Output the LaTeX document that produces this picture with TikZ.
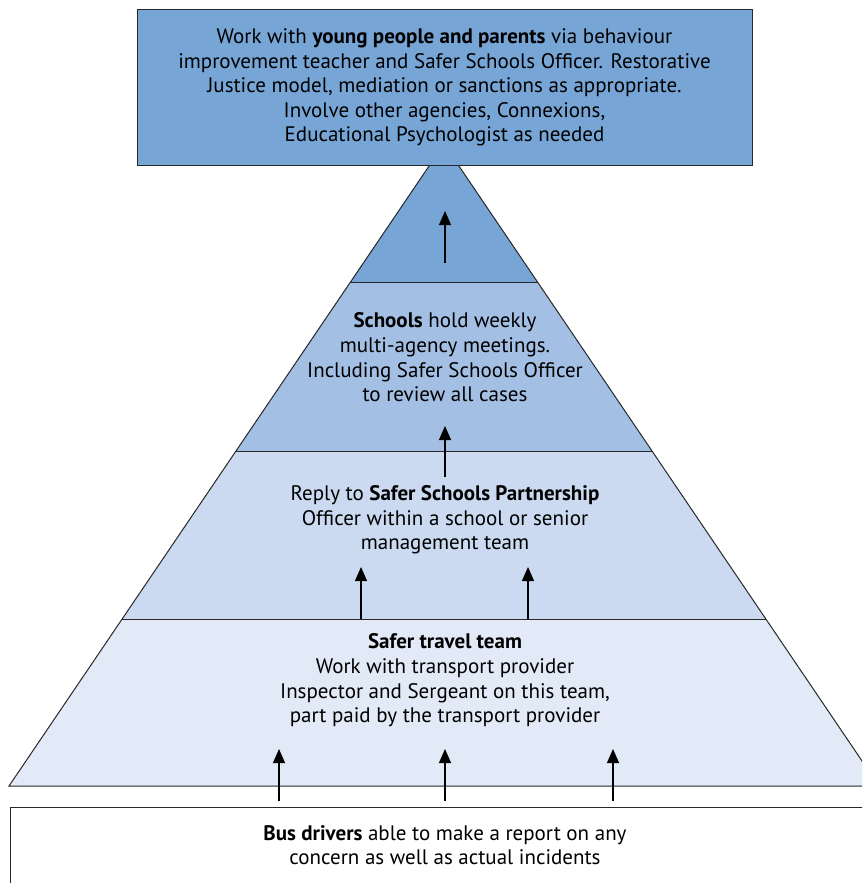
\documentclass[tikz,border=0pt]{standalone}
\usepackage{fontspec}
\setmainfont{PT Sans}
\usetikzlibrary{arrows.meta,calc}
\definecolor{lvA}{RGB}{118,165,214}
\definecolor{lvB}{RGB}{163,191,227}
\definecolor{lvC}{RGB}{203,218,240}
\definecolor{lvD}{RGB}{226,234,247}
\definecolor{edge}{RGB}{40,40,40}
\begin{document}
\begin{tikzpicture}[x=1pt,y=-1pt,
  txt/.style={align=center,font=\fontsize{21}{24.6}\selectfont,inner sep=0pt},
  upar/.style={-{Triangle[width=12pt,length=14pt]},line width=1.1pt,black},
  outl/.style={draw=edge,line width=1pt}]
\useasboundingbox (0,0) rectangle (862,883);
\begin{scope}
\clip (0,0) rectangle (862,883);
\coordinate (A) at (444,144);
\coordinate (BL) at (9,786);
\coordinate (BR) at (879,786);
\coordinate (L1) at ($(A)!0.21495!(BL)$);
\coordinate (R1) at ($(A)!0.21495!(BR)$);
\coordinate (L2) at ($(A)!0.47897!(BL)$);
\coordinate (R2) at ($(A)!0.47897!(BR)$);
\coordinate (L3) at ($(A)!0.73988!(BL)$);
\coordinate (R3) at ($(A)!0.73988!(BR)$);
\fill[lvD] (A) -- (BL) -- (BR) -- cycle;
\fill[lvC] (A) -- (L3) -- (R3) -- cycle;
\fill[lvB] (A) -- (L2) -- (R2) -- cycle;
\fill[lvA] (A) -- (L1) -- (R1) -- cycle;
\draw[outl] (A) -- (BL) -- (BR) -- cycle;
\draw[outl] (L1) -- (R1);
\draw[outl] (L2) -- (R2);
\draw[outl] (L3) -- (R3);
\draw[outl,fill=white] (10,807) rectangle (900,920);
\end{scope}
\node[txt,fill=lvA,draw=edge,line width=1pt,minimum width=615pt,minimum height=155pt] (top) at (444.5,87.5)
{Work with \textbf{young people and parents} via behaviour\\
improvement teacher and Safer Schools Officer. Restorative\\
Justice model, mediation or sanctions as appropriate.\\
Involve other agencies, Connexions,\\
Educational Psychologist as needed};
\node[txt] (schools) at (445,357.5)
{\textbf{Schools} hold weekly\\
multi-agency meetings.\\
Including Safer Schools Officer\\
to review all cases};
\node[txt] (reply) at (445,520)
{Reply to \textbf{Safer Schools Partnership}\\
Officer within a school or senior\\
management team};
\node[txt] (travel) at (445,680.5)
{\textbf{Safer travel team}\\
Work with transport provider\\
Inspector and Sergeant on this team,\\
part paid by the transport provider};
\node[txt] (bus) at (445,845)
{\textbf{Bus drivers} able to make a report on any\\
concern as well as actual incidents};
\coordinate (a0s) at (445,263); \coordinate (a0e) at (445,211);
\coordinate (a1s) at (445,477); \coordinate (a1e) at (445,426);
\coordinate (a2s) at (361,619); \coordinate (a2e) at (361,567);
\coordinate (a3s) at (528,619); \coordinate (a3e) at (528,567);
\coordinate (a4s) at (279,801); \coordinate (a4e) at (279,749);
\coordinate (a5s) at (445,801); \coordinate (a5e) at (445,749);
\coordinate (a6s) at (613,801); \coordinate (a6e) at (613,749);
\foreach \i in {0,...,6} \draw[upar] (a\i s) -- (a\i e);
\end{tikzpicture}
\end{document}
